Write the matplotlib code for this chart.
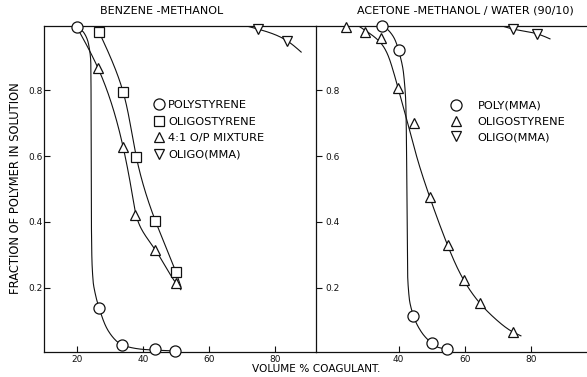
import numpy as np
import matplotlib.pyplot as plt
from matplotlib.lines import Line2D

# ---- data ----
# benzene - methanol (left panel)
ps_x = [20, 26.7, 33.8, 43.8, 49.8]
ps_y = [0.99, 0.14, 0.027, 0.015, 0.01]
ps_cx = [20, 22, 23.5, 24.2, 24.3, 24.35, 24.5, 24.9, 25.6, 26.7, 29.5, 33.8, 40, 50]
ps_cy = [0.99, 0.975, 0.94, 0.88, 0.7, 0.45, 0.3, 0.22, 0.18, 0.14, 0.07, 0.027, 0.014, 0.009]

ols_x = [26.7, 34, 38, 43.8, 50]
ols_y = [0.976, 0.794, 0.597, 0.403, 0.248]
ols_cx = [26.7, 34, 38, 43.8, 50, 51.5]
ols_cy = [0.976, 0.794, 0.597, 0.403, 0.248, 0.205]

mix_x = [26.4, 34, 37.7, 43.8, 50]
mix_y = [0.866, 0.627, 0.42, 0.315, 0.215]
mix_cx = [20, 26.4, 34, 37.0, 39.0, 43.8, 50, 51.5]
mix_cy = [0.99, 0.866, 0.627, 0.47, 0.39, 0.315, 0.215, 0.195]

omma1_x = [74.8, 83.6]
omma1_y = [0.985, 0.95]
omma1_cx = [70, 74.8, 83.6, 88]
omma1_cy = [0.998, 0.985, 0.95, 0.915]

# acetone - methanol / water (right panel)
pmma_x = [35, 40, 44.5, 50, 54.5]
pmma_y = [0.995, 0.92, 0.115, 0.033, 0.015]
pmma_cx = [33, 35, 38.5, 40, 41.5, 42.2, 42.5, 42.7, 43.2, 44.5, 47, 50, 52, 54.5]
pmma_cy = [1.0, 0.995, 0.96, 0.92, 0.85, 0.75, 0.5, 0.25, 0.17, 0.115, 0.065, 0.033, 0.02, 0.015]

ols2_x = [24.2, 29.7, 34.8, 39.7, 44.8, 49.4, 54.8, 59.7, 64.5, 74.5]
ols2_y = [0.99, 0.975, 0.957, 0.806, 0.70, 0.476, 0.33, 0.224, 0.155, 0.067]
ols2_cx = [27, 30, 34.8, 38, 40, 43, 46, 49.4, 54.8, 59.7, 64.5, 70, 74.5, 77]
ols2_cy = [1.0, 0.98, 0.94, 0.87, 0.8, 0.69, 0.58, 0.476, 0.33, 0.224, 0.155, 0.1, 0.067, 0.055]

omma2_x = [74.5, 82]
omma2_y = [0.985, 0.97]
omma2_cx = [71, 74.5, 82, 85.8]
omma2_cy = [0.995, 0.985, 0.97, 0.955]


def natural(t, v, tt):
    # natural cubic spline v(t) evaluated at tt
    n = len(t)
    h = np.diff(t)
    A = np.zeros((n, n))
    B = np.zeros(n)
    A[0, 0] = 1
    A[-1, -1] = 1
    for i in range(1, n - 1):
        A[i, i - 1] = h[i - 1]
        A[i, i] = 2 * (h[i - 1] + h[i])
        A[i, i + 1] = h[i]
        B[i] = 3 * (v[i + 1] - v[i]) / h[i] - 3 * (v[i] - v[i - 1]) / h[i - 1]
    c = np.linalg.solve(A, B)
    b = (v[1:] - v[:-1]) / h - h / 3 * (2 * c[:-1] + c[1:])
    d = (c[1:] - c[:-1]) / (3 * h)
    k = np.clip(np.searchsorted(t, tt) - 1, 0, n - 2)
    s = tt - t[k]
    return v[k] + b[k] * s + c[k] * s ** 2 + d[k] * s ** 3


def pchip(t, v, tt):
    # shape preserving hermite, no overshoot on the sharp bends
    n = len(t)
    h = np.diff(t)
    dl = np.diff(v) / h
    m = np.zeros(n)
    m[0], m[-1] = dl[0], dl[-1]
    for k in range(1, n - 1):
        if dl[k - 1] * dl[k] > 0:
            w1 = 2 * h[k] + h[k - 1]
            w2 = h[k] + 2 * h[k - 1]
            m[k] = (w1 + w2) / (w1 / dl[k - 1] + w2 / dl[k])
    k = np.clip(np.searchsorted(t, tt) - 1, 0, n - 2)
    s = (tt - t[k]) / h[k]
    h00 = 2 * s ** 3 - 3 * s ** 2 + 1
    h10 = s ** 3 - 2 * s ** 2 + s
    h01 = -2 * s ** 3 + 3 * s ** 2
    h11 = s ** 3 - s ** 2
    return h00 * v[k] + h10 * h[k] * m[k] + h01 * v[k + 1] + h11 * h[k] * m[k + 1]


def smooth(xs, ys, f=natural, n=400):
    xs = np.asarray(xs, float)
    ys = np.asarray(ys, float)
    # chord length measured roughly in pixels
    seg = np.hypot(np.diff(xs) * 3.3, np.diff(ys) * 330)
    t = np.r_[0, np.cumsum(seg)]
    tt = np.linspace(0, t[-1], n)
    return f(t, xs, tt), f(t, ys, tt)


ink = '#111111'
fs = 6.5
plt.rcParams['font.family'] = 'DejaVu Sans'

fig = plt.figure(figsize=(5.87, 3.77), dpi=100)
ax1 = fig.add_axes([44 / 587, 25 / 377, 272 / 587, 326 / 377])
ax2 = fig.add_axes([316 / 587, 25 / 377, 271 / 587, 326 / 377])

mk = dict(ls='none', mfc='white', mec=ink, mew=0.9, clip_on=False, zorder=3)

curves1 = [(ps_cx, ps_cy, pchip), (ols_cx, ols_cy, natural),
           (mix_cx, mix_cy, natural), (omma1_cx, omma1_cy, natural)]
for cx, cy, f in curves1:
    sx, sy = smooth(cx, cy, f)
    ax1.plot(sx, sy, color=ink, lw=0.8)
ax1.plot(ps_x, ps_y, marker='o', ms=8, **mk)
ax1.plot(ols_x, ols_y, marker='s', ms=7.5, **mk)
ax1.plot(mix_x, mix_y, marker='^', ms=7.5, **mk)
ax1.plot(omma1_x, omma1_y, marker='v', ms=7.5, **mk)

curves2 = [(pmma_cx, pmma_cy, pchip), (ols2_cx, ols2_cy, natural),
           (omma2_cx, omma2_cy, natural)]
for cx, cy, f in curves2:
    sx, sy = smooth(cx, cy, f)
    ax2.plot(sx, sy, color=ink, lw=0.8)
ax2.plot(pmma_x, pmma_y, marker='o', ms=8, **mk)
ax2.plot(ols2_x, ols2_y, marker='^', ms=7.5, **mk)
ax2.plot(omma2_x, omma2_y, marker='v', ms=7.5, **mk)

ax1.set_xlim(10, 92.5)
ax2.set_xlim(15, 97)
for ax in (ax1, ax2):
    ax.set_ylim(0.006, 0.994)
    ax.set_yticks([0.2, 0.4, 0.6, 0.8])
    ax.set_yticklabels(['0.2', '0.4', '0.6', '0.8'])
    ax.spines['right'].set_visible(False)
    for s in ('left', 'top', 'bottom'):
        ax.spines[s].set_color(ink)
        ax.spines[s].set_linewidth(0.9)
    ax.tick_params(direction='in', length=4, width=0.8, colors=ink, labelsize=fs)
    ax.tick_params(axis='x', pad=2)
    ax.set_facecolor('none')

ax1.set_xticks([20, 40, 60, 80])
ax2.set_xticks([40, 60, 80])
ax1.tick_params(axis='y', pad=1)
ax2.tick_params(axis='y', pad=-6.5)
for lbl in ax2.get_yticklabels():
    lbl.set_horizontalalignment('left')

ax1.text(0.434, 1.047, 'BENZENE -METHANOL', transform=ax1.transAxes,
         ha='center', va='center', fontsize=8)
ax2.text(0.55, 1.047, 'ACETONE -METHANOL / WATER (90/10)', transform=ax2.transAxes,
         ha='center', va='center', fontsize=8)
fig.text(0.026, 0.5, 'FRACTION OF POLYMER IN SOLUTION', rotation=90,
         ha='center', va='center', fontsize=8.3)
fig.text(316 / 587, 0.02, 'VOLUME % COAGULANT.', ha='center', va='center', fontsize=7.6)

def handle(m, ms):
    return Line2D([], [], marker=m, ms=ms, ls='none', mfc='white', mec=ink, mew=0.9)

lfs = 8.2
leg1 = ax1.legend([handle('o', 8), handle('s', 7.5), handle('^', 7.5), handle('v', 7.5)],
                  ['POLYSTYRENE', 'OLIGOSTYRENE', '4:1 O/P MIXTURE', 'OLIGO(MMA)'],
                  loc='upper left', bbox_to_anchor=(0.402, 0.773), frameon=False,
                  fontsize=lfs, handlelength=1, handletextpad=0.3, labelspacing=0.58,
                  borderpad=0, borderaxespad=0)
leg2 = ax2.legend([handle('o', 8), handle('^', 7.5), handle('v', 7.5)],
                  ['POLY(MMA)', 'OLIGOSTYRENE', 'OLIGO(MMA)'],
                  loc='upper left', bbox_to_anchor=(0.495, 0.770), frameon=False,
                  fontsize=lfs, handlelength=1, handletextpad=1.4, labelspacing=0.5,
                  borderpad=0, borderaxespad=0)

fig.savefig('out.png', dpi=100)
